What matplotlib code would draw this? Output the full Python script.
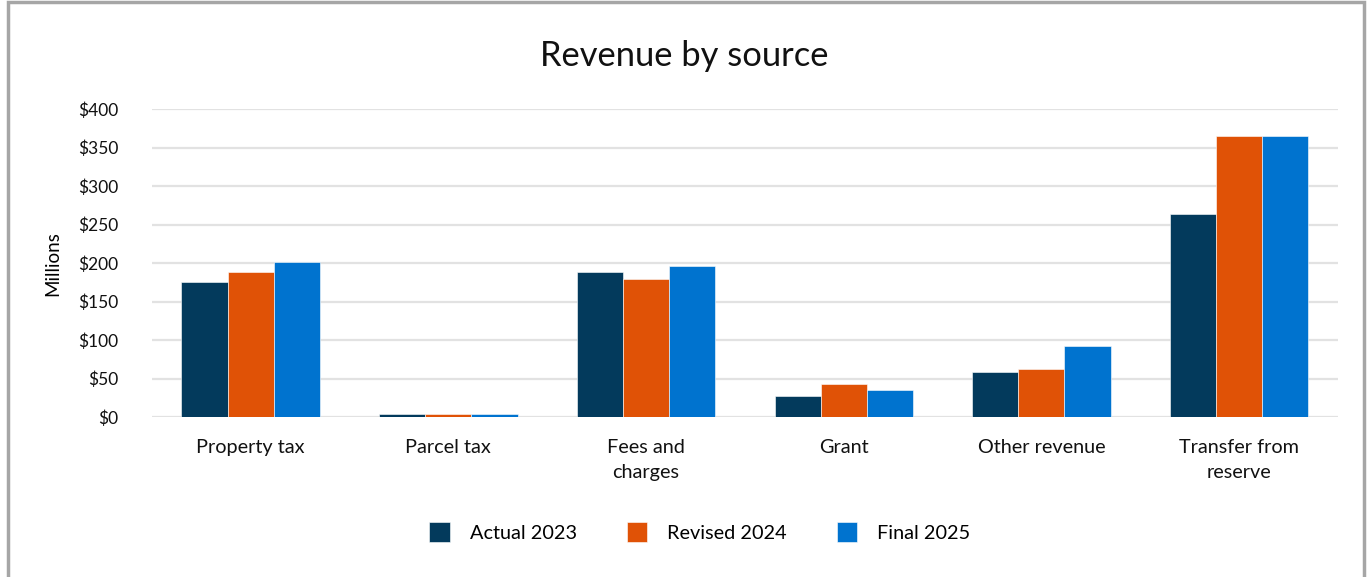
import numpy as np
import matplotlib.pyplot as plt
from matplotlib.patches import Rectangle

plt.rcParams['font.family'] = ['Lato', 'DejaVu Sans']

# data (millions of dollars)
categories = ['Property tax', 'Parcel tax', 'Fees and\ncharges', 'Grant', 'Other revenue', 'Transfer from\nreserve']
series_names = ['Actual 2023', 'Revised 2024', 'Final 2025']
actual_2023 = [175, 3.5, 188, 27, 58, 264]
revised_2024 = [188, 3.5, 180, 43, 63, 365]
final_2025 = [201, 3.5, 196, 35, 92, 365]
yticks = [0, 50, 100, 150, 200, 250, 300, 350, 400]

colors = ['#033a5c', '#e05206', '#0073cf']

fig = plt.figure(figsize=(13.68, 5.77), dpi=100)
ax = fig.add_axes([0.111, 0.277, 0.867, 0.534])

x = np.arange(len(categories))
w = 0.7 / 3
for i, vals in enumerate([actual_2023, revised_2024, final_2025]):
    ax.bar(x + (i - 1) * w, vals, w, color=colors[i], label=series_names[i], zorder=3,
           edgecolor='white', linewidth=0.4)

ax.set_xlim(-0.5, len(categories) - 0.5)
ax.set_ylim(0, 400)
ax.set_yticks(yticks)
ax.set_yticklabels([f'${v}' for v in yticks], fontsize=12.5)
ax.set_xticks(x)
ax.set_xticklabels(categories, fontsize=14.3, linespacing=1.55)
ax.tick_params(axis='both', length=0, colors='#111111')
ax.tick_params(axis='y', pad=24)
ax.tick_params(axis='x', pad=16)
for s in ax.spines.values():
    s.set_visible(False)
ax.grid(axis='y', color='#e2e2e2', linewidth=1.6, zorder=0)
ax.set_axisbelow(True)
ax.set_ylabel('Millions', fontsize=13.5, labelpad=12)

fig.suptitle('Revenue by source', fontsize=24.8, y=0.93, color='#111111')

ax.legend(loc='center', bbox_to_anchor=(0.462, -0.373), ncol=3, frameon=False,
          fontsize=14.3, handlelength=1.05, handleheight=1.1, handletextpad=1.0,
          columnspacing=2.5)

fig.patches.append(Rectangle((0.006, -0.02), 0.991, 1.017, transform=fig.transFigure,
                             fill=False, edgecolor='#a6a6a6', linewidth=2.5))

fig.savefig('out.png', dpi=100)
